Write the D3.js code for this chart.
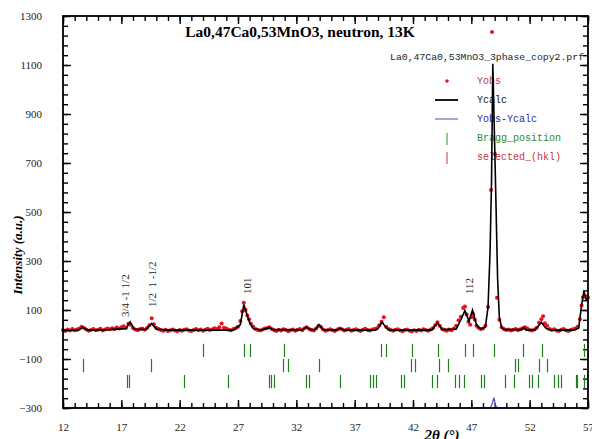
<!DOCTYPE html>
<html>
<head>
<meta charset="utf-8">
<script src="https://cdn.jsdelivr.net/npm/d3@7"></script>
<style>
body { margin: 0; background: #fff; }
svg { display: block; font-family: "Liberation Serif", "Times New Roman", serif; }
</style>
</head>
<body>
<script>
// tick labels
var xTicks = [12, 17, 22, 27, 32, 37, 42, 47, 52, 57];
var yTicks = [-300, -100, 100, 300, 500, 700, 900, 1100, 1300];

// observed intensity, [2theta, counts]
var yobs = [
  [12.0,18],[12.2,14],[12.4,20],[12.6,16],[12.8,22],[13.0,17],[13.2,20],[13.4,24],[13.6,32],[13.8,27],
  [14.0,20],[14.2,15],[14.4,18],[14.6,22],[14.8,17],[15.0,19],[15.2,23],[15.4,16],[15.6,20],[15.8,24],
  [16.0,21],[16.2,26],[16.4,22],[16.6,29],[16.8,25],[17.0,30],[17.2,34],[17.4,28],[17.6,44],[17.8,40],
  [18.0,27],[18.2,20],[18.4,17],[18.6,22],[18.8,24],[19.0,19],[19.2,27],[19.4,38],[19.6,66],[19.8,42],
  [20.0,28],[20.2,22],[20.4,18],[20.6,15],[20.8,19],[21.0,14],[21.2,17],[21.4,20],[21.6,16],[21.8,13],
  [22.0,18],[22.2,15],[22.4,19],[22.6,21],[22.8,16],[23.0,14],[23.2,18],[23.4,22],[23.6,17],[23.8,20],
  [24.0,15],[24.2,19],[24.4,23],[24.6,18],[24.8,21],[25.0,26],[25.2,22],[25.4,30],[25.6,45],[25.8,28],
  [26.0,24],[26.2,19],[26.4,17],[26.6,22],[26.8,26],[27.0,32],[27.2,55],[27.35,95],[27.5,130],[27.65,100],
  [27.8,78],[27.95,62],[28.1,45],[28.3,33],[28.5,22],[28.7,18],[28.9,16],[29.1,20],[29.3,24],[29.5,27],
  [29.7,30],[29.9,22],[30.1,17],[30.3,14],[30.5,19],[30.7,16],[30.9,21],[31.1,18],[31.3,13],[31.5,17],
  [31.7,20],[31.9,15],[32.1,19],[32.3,22],[32.5,17],[32.7,26],[32.9,30],[33.1,22],[33.3,18],[33.5,16],
  [33.7,24],[33.9,36],[34.1,32],[34.3,20],[34.5,15],[34.7,18],[34.9,21],[35.1,17],[35.3,14],[35.5,20],
  [35.7,24],[35.9,21],[36.1,16],[36.3,19],[36.5,22],[36.7,15],[36.9,18],[37.1,21],[37.3,17],[37.5,14],
  [37.7,19],[37.9,23],[38.1,18],[38.3,16],[38.5,20],[38.7,22],[38.9,26],[39.1,38],[39.3,52],[39.5,70],
  [39.7,32],[39.9,22],[40.1,18],[40.3,15],[40.5,19],[40.7,21],[40.9,16],[41.1,13],[41.3,18],[41.5,20],
  [41.7,15],[41.9,12],[42.1,17],[42.3,14],[42.5,19],[42.7,16],[42.9,21],[43.1,18],[43.3,15],[43.5,20],
  [43.7,26],[43.9,38],[44.1,50],[44.3,36],[44.5,22],[44.7,18],[44.9,15],[45.1,20],[45.3,17],[45.5,24],
  [45.7,36],[45.9,58],[46.1,72],[46.3,108],[46.45,114],[46.6,82],[46.75,52],[46.9,40],[47.05,70],[47.15,84],
  [47.3,60],[47.45,36],[47.6,28],[47.8,22],[48.0,25],[48.2,36],[48.43,112],[48.69,590],[48.77,1235],[49.03,737],
  [49.2,150],[49.4,60],[49.6,30],[49.8,22],[50.0,18],[50.2,20],[50.4,16],[50.6,19],[50.8,22],[51.0,17],
  [51.2,21],[51.4,26],[51.6,30],[51.8,24],[52.0,18],[52.2,16],[52.4,20],[52.6,28],[52.8,48],[53.0,62],
  [53.15,75],[53.3,46],[53.5,36],[53.7,22],[53.9,18],[54.1,21],[54.3,16],[54.5,14],[54.7,19],[54.9,22],
  [55.1,17],[55.3,14],[55.5,18],[55.7,21],[55.9,24],[56.1,32],[56.3,62],[56.45,118],[56.57,152],[56.8,156],
  [57.0,150]
];

// calculated profile, [2theta, counts]
var ycalc = [
  [12.0,17],[13.3,17],[13.7,30],[14.1,18],[16.0,20],[17.4,24],[17.75,52],[18.1,22],[19.1,20],[19.6,45],
  [20.0,22],[21.0,18],[26.6,18],[27.2,40],[27.5,122],[27.85,68],[28.0,48],[28.3,24],[29.0,18],[29.4,24],
  [29.7,28],[30.0,20],[32.5,19],[32.85,30],[33.2,20],[33.6,20],[33.95,40],[34.3,20],[35.5,18],[35.8,25],
  [36.1,18],[38.8,18],[39.0,25],[39.35,50],[39.7,28],[40.0,18],[43.6,18],[44.1,48],[44.5,20],[45.7,22],
  [46.1,60],[46.45,98],[46.8,55],[47.1,100],[47.45,38],[47.8,22],[48.2,30],[48.43,110],[48.6,330],[48.73,620],
  [48.84,1105],[48.95,880],[49.1,560],[49.25,230],[49.4,70],[49.6,28],[49.8,20],[51.3,20],[51.5,28],[51.7,18],
  [52.5,20],[53.0,50],[53.4,25],[53.8,18],[55.8,18],[56.2,26],[56.45,120],[56.65,178],[56.85,140],[57.0,150]
];

// Yobs - Ycalc, already shifted down to the bottom of the frame
var ydiff = [[12.0,-300],[48.6,-300],[48.78,-285],[48.93,-258],[49.1,-292],[49.25,-300],[57.0,-300]];

// Bragg positions of the three phases (2theta)
var braggPhase1 = [24.0, 27.51, 28.03, 30.94, 39.26, 39.69, 41.91, 44.14, 46.46, 47.14, 48.94, 51.43, 53.06, 56.66];
var braggPhase2 = [13.71, 19.54, 30.86, 31.29, 33.94, 41.83, 42.17, 44.23, 45.0, 50.74, 51.0, 52.8, 53.49];
var braggPhase3 = [17.49, 17.66, 22.37, 26.14, 29.66, 29.83, 30.09, 32.83, 33.09, 35.74, 38.31, 38.57, 38.83,
  40.97, 41.23, 43.63, 44.06, 45.6, 45.94, 46.37, 47.83, 48.09, 49.89, 50.66, 51.94, 52.2, 52.71, 54.09, 54.43,
  54.69, 55.97, 56.06, 56.66];

// hkl annotations
var hklText = ["3/4 -1 1/2", "1/2  1 -1/2", "101", "112"];
var hklPos = [17.31, 19.63, 27.77, 46.8];
var hklBase = [71, 112, 165, 165];

var legendNames = ["Yobs", "Ycalc", "Yobs-Ycalc", "Bragg_position", "selected_(hkl)"];
var legendColors = ["#c23a3a", "#111111", "#2a2a9a", "#2e8b2e", "#c23a3a"];

var svgOptions = { width: 592, height: 439 };
var plot = { left: 63, right: 588, top: 16, bottom: 408 };

var svg = d3.select("body").append("svg")
  .attr("width", svgOptions.width)
  .attr("height", svgOptions.height);

var x = d3.scaleLinear().domain([12, 57]).range([plot.left, plot.right]);
var y = d3.scaleLinear().domain([-300, 1300]).range([plot.bottom, plot.top]);

var xMinor = d3.range(12, 57.5, 1);
var yMinor = d3.range(-300, 1301, 40);

// axes, ticks pointing inwards
var drawAxis = function (axis, transform, cls) {
  var g = svg.append("g").attr("class", cls).attr("transform", transform).call(axis);
  g.select(".domain").remove();
  g.selectAll(".tick line").attr("stroke", "#000").attr("stroke-width", 1.4);
  g.selectAll(".tick text").attr("font-size", 11).attr("fill", "#222")
    .attr("font-family", "Liberation Serif, Times New Roman, serif");
  return g;
};

drawAxis(d3.axisBottom(x).tickValues(xMinor).tickSize(-5).tickFormat(""), "translate(0," + plot.bottom + ")", "xminor");
drawAxis(d3.axisTop(x).tickValues(xMinor).tickSize(-5).tickFormat(""), "translate(0," + plot.top + ")", "xminor");
drawAxis(d3.axisBottom(x).tickValues(xTicks).tickSize(-8).tickPadding(15).tickFormat(d3.format("d")), "translate(0," + plot.bottom + ")", "xaxis");
drawAxis(d3.axisTop(x).tickValues(xTicks).tickSize(-8).tickFormat(""), "translate(0," + plot.top + ")", "xaxis");

drawAxis(d3.axisLeft(y).tickValues(yMinor).tickSize(-5).tickFormat(""), "translate(" + plot.left + ",0)", "yminor");
drawAxis(d3.axisRight(y).tickValues(yMinor).tickSize(-5).tickFormat(""), "translate(" + plot.right + ",0)", "yminor");
drawAxis(d3.axisLeft(y).tickValues(yTicks).tickSize(-8).tickPadding(21).tickFormat(d3.format("d")), "translate(" + plot.left + ",0)", "yaxis");
drawAxis(d3.axisRight(y).tickValues(yTicks).tickSize(-8).tickFormat(""), "translate(" + plot.right + ",0)", "yaxis");

// titles
svg.append("text")
  .attr("x", 300).attr("y", 37)
  .attr("text-anchor", "middle")
  .attr("font-size", 15.5).attr("font-weight", "bold")
  .text("La0,47Ca0,53MnO3, neutron, 13K");

svg.append("text")
  .attr("x", 390).attr("y", 60)
  .attr("font-family", "Liberation Mono, Courier New, monospace")
  .attr("font-size", 9.8).attr("fill", "#222")
  .text("La0,47Ca0,53MnO3_3phase_copy2.prf");

svg.append("text")
  .attr("x", 442).attr("y", 440)
  .attr("text-anchor", "middle")
  .attr("font-size", 15).attr("font-weight", "bold").attr("font-style", "italic")
  .text("2θ (°)");

svg.append("text")
  .attr("transform", "translate(22,255) rotate(-90)")
  .attr("text-anchor", "middle")
  .attr("font-size", 13).attr("font-weight", "bold").attr("font-style", "italic")
  .text("Intensity (a.u.)");

// legend (drawn under the data, the main peak crosses it)
var legend = svg.append("g").attr("class", "legend");
legendNames.forEach(function (name, i) {
  var ly = 81 + i * 19;
  legend.append("text")
    .attr("x", 477).attr("y", ly + 3)
    .attr("font-family", "Liberation Mono, Courier New, monospace")
    .attr("font-size", 10).attr("fill", legendColors[i])
    .text(name);
});
legend.append("circle").attr("cx", 447).attr("cy", 81).attr("r", 1.8).attr("fill", "#e0141c");
legend.append("line").attr("x1", 435).attr("x2", 458).attr("y1", 100).attr("y2", 100)
  .attr("stroke", "#000").attr("stroke-width", 1.8);
legend.append("line").attr("x1", 435).attr("x2", 458).attr("y1", 119).attr("y2", 119)
  .attr("stroke", "#8888c8").attr("stroke-width", 1.5);
legend.append("line").attr("x1", 447).attr("x2", 447).attr("y1", 133).attr("y2", 145)
  .attr("stroke", "#2e8b2e").attr("stroke-width", 1);
legend.append("line").attr("x1", 447).attr("x2", 447).attr("y1", 152).attr("y2", 164)
  .attr("stroke", "#c23a3a").attr("stroke-width", 1);

// Bragg ticks, one row per phase
var braggRows = [
  { data: braggPhase1, top: -38, bottom: -92 },
  { data: braggPhase2, top: -100, bottom: -154 },
  { data: braggPhase3, top: -165, bottom: -219 }
];
braggRows.forEach(function (row) {
  svg.append("g").selectAll("line")
    .data(row.data)
    .enter().append("line")
    .attr("x1", function (d) { return Math.round(x(d)) + 0.5; })
    .attr("x2", function (d) { return Math.round(x(d)) + 0.5; })
    .attr("y1", y(row.top))
    .attr("y2", y(row.bottom))
    .attr("stroke", "#1f7f1f")
    .attr("stroke-width", 1.2);
});

// observed points
svg.append("g").selectAll("circle")
  .data(yobs)
  .enter().append("circle")
  .attr("cx", function (d) { return x(d[0]); })
  .attr("cy", function (d) { return y(d[1]); })
  .attr("r", 2)
  .attr("fill", "#e8101a");

// calculated profile
var line = d3.line()
  .x(function (d) { return x(d[0]); })
  .y(function (d) { return y(d[1]); });

svg.append("path")
  .datum(ycalc)
  .attr("d", line)
  .attr("fill", "none")
  .attr("stroke", "#000")
  .attr("stroke-width", 1.6);

// difference curve
svg.append("path")
  .datum(ydiff)
  .attr("d", line)
  .attr("fill", "none")
  .attr("stroke", "#4a4ac0")
  .attr("stroke-width", 1.2);

// frame on top so the flat part of the difference curve is hidden
svg.append("rect")
  .attr("x", plot.left).attr("y", plot.top)
  .attr("width", plot.right - plot.left).attr("height", plot.bottom - plot.top)
  .attr("fill", "none").attr("stroke", "#000").attr("stroke-width", 1.8);

// hkl labels
svg.append("g").selectAll("text")
  .data(hklText)
  .enter().append("text")
  .attr("transform", function (d, i) {
    return "translate(" + x(hklPos[i]) + "," + y(hklBase[i]) + ") rotate(-90)";
  })
  .attr("dy", "0.35em")
  .attr("font-size", 11)
  .attr("fill", "#222")
  .style("white-space", "pre")
  .text(function (d) { return d; });
</script>
</body>
</html>
